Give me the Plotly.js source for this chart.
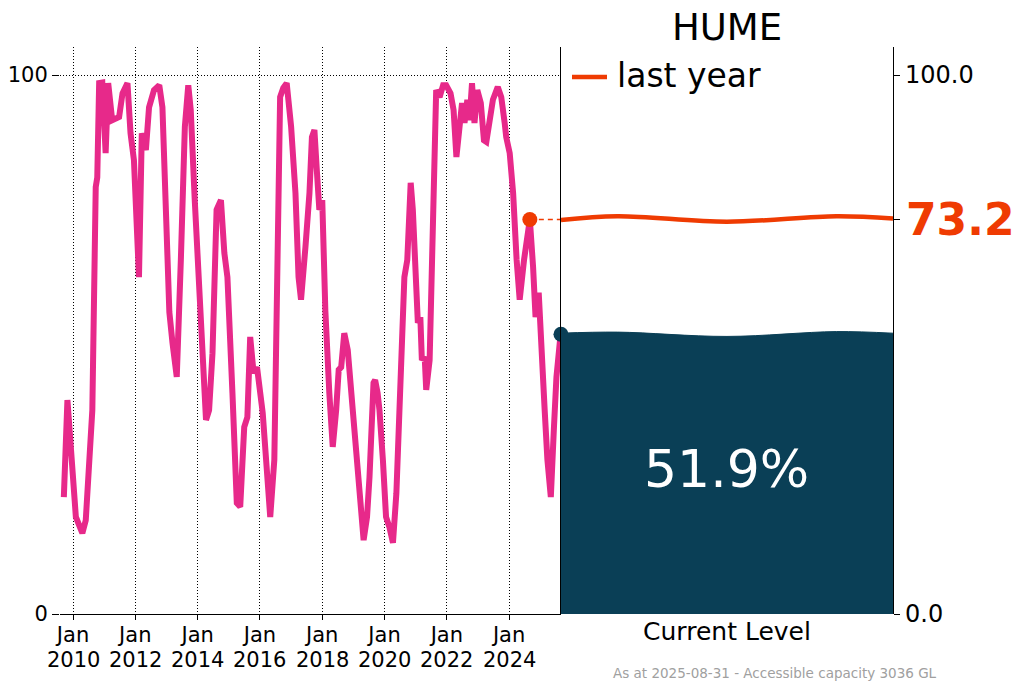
<!DOCTYPE html>
<html><head><meta charset="utf-8">
<script src="https://cdn.plot.ly/plotly-3.0.1.min.js"></script>
<style>html,body{margin:0;padding:0;background:#fff}#chart{width:1024px;height:691px}</style>
</head><body><div id="chart"></div>
<script>
// Storage level history (% of accessible capacity)
const dates = [
 '2009-09-15','2009-10-27','2010-02-03','2010-04-20','2010-05-30','2010-08-15','2010-09-24','2010-10-12','2010-11-03','2010-12-10',
 '2011-01-18','2011-02-17','2011-04-05','2011-06-25','2011-08-04','2011-10-01','2011-11-06','2011-12-16','2012-02-13','2012-03-17',
 '2012-05-04','2012-06-10','2012-08-07','2012-10-08','2012-11-14','2013-02-03','2013-03-12','2013-05-01','2013-06-18','2013-08-04',
 '2013-09-13','2013-10-12','2013-11-28','2014-02-06','2014-04-09','2014-05-15','2014-06-24','2014-08-11','2014-10-01','2014-11-10',
 '2014-12-16','2015-02-13','2015-04-05','2015-05-15','2015-07-01','2015-08-07','2015-09-09','2015-10-19','2015-11-28','2016-02-03',
 '2016-03-14','2016-05-01','2016-06-18','2016-07-27','2016-08-25','2016-10-01','2016-11-10','2017-01-01','2017-02-21','2017-03-29',
 '2017-04-27','2017-06-18','2017-08-04','2017-09-02','2017-10-01','2017-10-27','2017-11-28','2018-01-01','2018-02-06','2018-03-25',
 '2018-05-04','2018-06-13','2018-07-13','2018-08-11','2018-09-16','2018-10-27','2018-12-06','2019-02-03','2019-03-14','2019-05-01',
 '2019-06-10','2019-07-09','2019-08-25','2019-09-13','2019-10-12','2019-11-03','2019-12-13','2020-01-19','2020-02-28','2020-04-09',
 '2020-05-19','2020-07-13','2020-08-21','2020-09-24','2020-11-03','2020-11-28','2020-12-28','2021-01-26','2021-02-24','2021-03-14',
 '2021-04-16','2021-05-04','2021-06-13','2021-07-19','2021-08-11','2021-08-29','2021-10-08','2021-11-18','2021-12-24','2022-02-13',
 '2022-03-21','2022-04-23','2022-05-30','2022-06-28','2022-07-27','2022-08-29','2022-09-24','2022-10-23','2022-11-21','2022-12-24',
 '2023-02-03','2023-03-12','2023-04-09','2023-05-19','2023-06-25','2023-08-21','2023-10-01','2023-11-10','2023-11-28','2024-01-08',
 '2024-02-17','2024-03-29','2024-05-04','2024-06-24','2024-08-31','2024-10-08','2024-11-06','2024-12-13','2025-01-15','2025-02-21',
 '2025-03-25','2025-05-04','2025-06-10','2025-07-09','2025-08-18','2025-08-31'
];
const levels = [
 21.7,39.7,18.0,15.0,17.4,37.8,79.2,81.0,98.5,98.6,
 85.5,98.5,91.6,92.2,96.6,98.5,89.2,84.2,62.5,89.2,
 86.1,94.0,97.2,98.1,94.0,56.0,50.3,44.0,65.7,90.4,
 98.1,93.5,76.8,53.2,36.0,37.8,48.4,75.0,76.8,67.0,
 62.5,41.0,20.6,19.9,34.7,36.5,51.4,44.7,45.8,37.3,
 28.6,18.0,28.6,65.7,95.9,97.6,98.5,90.4,78.1,62.5,
 58.3,68.1,78.1,88.5,89.8,82.9,75.0,76.8,56.4,41.0,
 31.0,37.8,45.3,45.8,52.1,49.0,41.0,31.7,24.3,13.7,
 18.0,25.4,42.9,43.4,41.0,37.8,28.6,18.0,16.1,13.2,
 22.4,47.1,62.5,65.7,80.0,75.0,62.5,54.0,55.1,47.1,
 47.7,41.6,47.1,71.8,90.4,97.2,95.9,98.1,98.1,96.6,
 93.5,84.8,90.4,94.8,91.1,95.4,91.6,98.5,91.1,97.2,
 94.8,87.9,87.6,91.1,95.4,97.8,95.9,91.1,88.5,85.5,
 78.1,65.7,58.3,65.7,73.2,64.4,55.1,59.6,47.1,37.8,
 28.6,21.7,34.7,44.0,50.5,51.9
];
const lastYearDate = '2024-08-31';
const lastYearLevel = 73.2;
const currentDate = '2025-08-31';
const currentLevel = 51.9;
const reservoir = 'HUME';
const legendLabel = 'last year';
const footerText = 'As at 2025-08-31 - Accessible capacity 3036 GL';
const xTickVals = ['2010-01-01','2012-01-01','2014-01-01','2016-01-01','2018-01-01','2020-01-01','2022-01-01','2024-01-01'];
const xTickMonths = ['Jan','Jan','Jan','Jan','Jan','Jan','Jan','Jan'];
const xTickYears = ['2010','2012','2014','2016','2018','2020','2022','2024'];
// decorative water-surface waves in the gauge panel
const waveX = [0, 0.17, 0.5, 0.83, 1];
const waveCurrent = [52.1, 52.3, 51.5, 52.4, 52.1];
const waveLastYear = [73.1, 73.8, 72.8, 73.8, 73.4];

const PINK = '#e7298a', ORANGE = '#ef3b02', NAVY = '#0a3f56';
const FONT = 'DejaVu Sans, sans-serif';

const traces = [
  {x: dates, y: levels, xaxis: 'x', yaxis: 'y', type: 'scatter', mode: 'lines',
   line: {color: PINK, width: 6}, showlegend: false, hoverinfo: 'skip'},
  {x: [lastYearDate, currentDate], y: [lastYearLevel, lastYearLevel], xaxis: 'x', yaxis: 'y',
   mode: 'lines', line: {color: ORANGE, width: 1.5, dash: '5px,4px'}, showlegend: false, cliponaxis: false},
  {x: [lastYearDate], y: [lastYearLevel], xaxis: 'x', yaxis: 'y', mode: 'markers',
   marker: {color: ORANGE, size: 15}, showlegend: false, cliponaxis: false},
  {x: waveX, y: waveCurrent, xaxis: 'x2', yaxis: 'y2', mode: 'lines', fill: 'tozeroy',
   fillcolor: NAVY, line: {color: NAVY, width: 1, shape: 'spline'}, showlegend: false},
  {x: waveX, y: waveLastYear, xaxis: 'x2', yaxis: 'y2', mode: 'lines', name: legendLabel,
   line: {color: ORANGE, width: 4.5, shape: 'spline'}, showlegend: false},
  {x: [currentDate], y: [currentLevel], xaxis: 'x', yaxis: 'y', mode: 'markers',
   marker: {color: NAVY, size: 15}, showlegend: false, cliponaxis: false}
];

const W = 833, H = 567, L = 60, T = 47;
const px = v => (v - L) / W;          // pixel -> paper x
const py = v => (T + H - v) / H;      // pixel -> paper y
const yTop = 105.2;
const yearAnnotations = xTickVals.map((d, i) => ({
  xref: 'x', yref: 'paper', x: d, y: py(660), yanchor: 'middle', xanchor: 'center',
  text: xTickYears[i], showarrow: false, font: {size: 21, color: '#000'}
}));
const layout = {
  width: 1024, height: 691,
  margin: {l: L, r: 1024 - L - W, t: T, b: 691 - T - H, pad: 0},
  paper_bgcolor: '#fff', plot_bgcolor: '#fff',
  font: {family: FONT, color: '#000', size: 22},
  title: {text: reservoir, font: {size: 37, color: '#000'}, xref: 'container', x: 727/1024, xanchor: 'center',
          yref: 'container', y: 1 - 27/691, yanchor: 'middle'},
  showlegend: false,
  xaxis: {domain: [0, 0.6014], type: 'date', range: ['2009-08-01', '2025-08-31'],
          tickvals: xTickVals, ticktext: xTickMonths, ticks: 'outside', ticklen: 5, tickcolor: '#000',
          ticklabelstandoff: -3,
          showline: true, linecolor: '#000', linewidth: 1.2, showgrid: true, gridcolor: '#000', gridwidth: 1,
          griddash: '1px,2px', zeroline: false, tickfont: {size: 21}, fixedrange: true, automargin: false},
  yaxis: {domain: [0, 1], range: [0, yTop], tickvals: [0, 100], ticktext: ['0', '100'],
          ticks: 'outside', ticklen: 7, tickcolor: '#000', showline: false, showgrid: true,
          gridcolor: '#000', gridwidth: 1, griddash: '1px,2px', zeroline: false,
          tickfont: {size: 21}, automargin: false, fixedrange: true},
  xaxis2: {domain: [0.6014, 1], range: [0, 1], anchor: 'y2', tickvals: [0.5], ticktext: ['Current Level'],
           ticks: '', showline: false, showgrid: false, zeroline: false, tickfont: {size: 25}, automargin: false},
  yaxis2: {anchor: 'x2', side: 'right', range: [0, yTop], tickvals: [0, lastYearLevel, 100],
           ticktext: ['0.0', '', '100.0'], ticks: 'outside', ticklen: 6, tickcolor: '#000',
           showline: true, mirror: true, linecolor: '#000', linewidth: 1.2, showgrid: false, zeroline: false,
           tickfont: {size: 24}, automargin: false},
  shapes: [
    {type: 'line', xref: 'paper', yref: 'paper', x0: px(572), x1: px(607), y0: py(77), y1: py(77),
     line: {color: ORANGE, width: 4.5}}
  ],
  annotations: [
    {xref: 'paper', yref: 'paper', x: px(615), xanchor: 'left', y: py(75), yanchor: 'middle',
     text: legendLabel, showarrow: false, font: {size: 33, color: '#000'}},
    {xref: 'x2', yref: 'y2', x: 0.5, y: 26.9, text: currentLevel.toFixed(1) + '%', showarrow: false,
     font: {size: 52, color: '#fff'}},
    {xref: 'paper', yref: 'y2', x: 1.0135, xanchor: 'left', y: lastYearLevel, yanchor: 'middle',
     text: '<b>' + lastYearLevel.toFixed(1) + '</b>', showarrow: false, font: {size: 44, color: ORANGE}},
    {xref: 'paper', yref: 'paper', x: 0.858, xanchor: 'center', y: py(673), yanchor: 'middle',
     text: footerText, showarrow: false, font: {size: 13.5, color: '#a0a0a0'}}
  ].concat(yearAnnotations)
};
Plotly.newPlot('chart', traces, layout, {staticPlot: true, displayModeBar: false});
</script></body></html>
